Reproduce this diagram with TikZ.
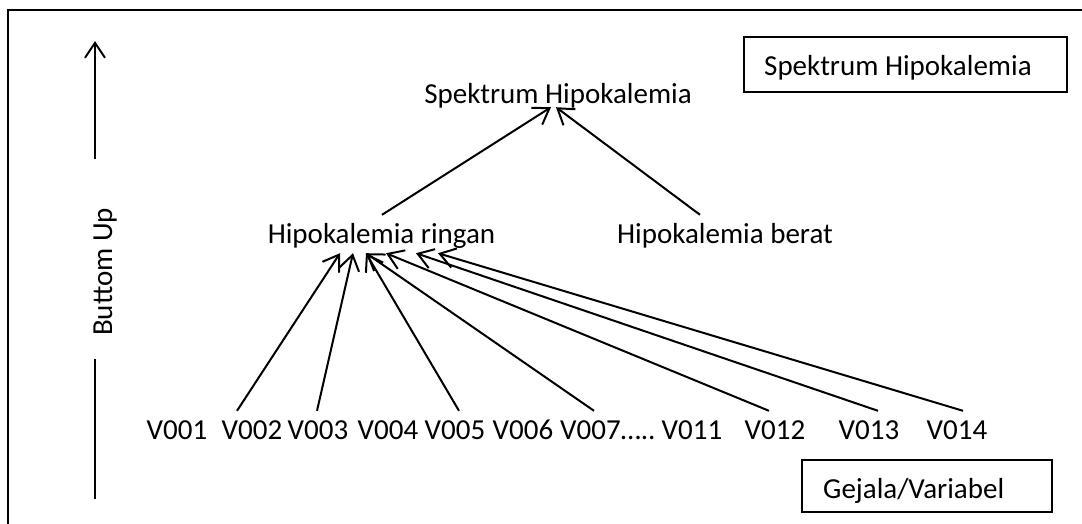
\documentclass[tikz,border=0pt]{standalone}
\usepackage{fontspec}
\setmainfont{Carlito}
\usetikzlibrary{arrows.meta}
\begin{document}
\begin{tikzpicture}[x=1pt,y=-1pt,
  lbl/.style={inner sep=0pt, text height=20pt, text depth=6pt, font=\fontsize{29}{35}\selectfont},
  link/.style={line width=2pt, -{Straight Barb[length=15pt,width=20pt,line width=2pt]}},
  legend/.style={draw, line width=1.4pt, inner sep=0pt}]
\useasboundingbox (0,0) rectangle (1082,523);
\clip (0,0) rectangle (1082,523);
% outer frame, running past the page on the right and at the bottom
\draw[line width=2.2pt] (8,10) rectangle (1100,540);

% hierarchy
\node[lbl, anchor=base] (top) at (558,103) {Spektrum Hipokalemia};
\node[lbl, anchor=base] (ringan) at (381.5,243) {Hipokalemia ringan};
\node[lbl, anchor=base] (berat) at (725,243) {Hipokalemia berat};

% symptoms / variables
\node[lbl, anchor=base] (v1) at (177,439) {V001};
\node[lbl, anchor=base] (v2) at (252,439) {V002};
\node[lbl, anchor=base] (v3) at (318,439) {V003};
\node[lbl, anchor=base] (v4) at (388,439) {V004};
\node[lbl, anchor=base] (v5) at (455,439) {V005};
\node[lbl, anchor=base] (v6) at (523,439) {V006};
\node[lbl, anchor=base west] (v7) at (560,439) {V007…..};
\node[lbl, anchor=base] (v11) at (692,439) {V011};
\node[lbl, anchor=base] (v12) at (775,439) {V012};
\node[lbl, anchor=base] (v13) at (869,439) {V013};
\node[lbl, anchor=base] (v14) at (957,439) {V014};

% symptoms up to the mild level
\draw[link] ([shift={(-15,-8)}]v2.north)  -- ([shift={(-41.5,4)}]ringan.south);
\draw[link] ([shift={(-1,-8)}]v3.north)   -- ([shift={(-28.5,4)}]ringan.south);
\draw[link] ([shift={(4,-8)}]v5.north)    -- ([shift={(-15.5,4)}]ringan.south);
\draw[link] ([shift={(34,-8)}]v7.north west) -- ([shift={(-15.5,4)}]ringan.south);
\draw[link] ([shift={(-6,-8)}]v12.north)  -- ([shift={(4.5,4)}]ringan.south);
\draw[link] ([shift={(9,-8)}]v13.north)   -- ([shift={(34.5,4)}]ringan.south);
\draw[link] ([shift={(6,-8)}]v14.north)   -- ([shift={(56.5,4)}]ringan.south);

% levels up to the spectrum
\draw[link] ([shift={(0.5,-8)}]ringan.north) -- ([shift={(-7,-2)}]top.south);
\draw[link] ([shift={(-25,-8)}]berat.north)  -- ([shift={(-2,-2)}]top.south);

% bottom-up axis
\coordinate (axlow) at (95,159);
\coordinate (axtip) at (95,41);
\draw[link] (axlow) -- (axtip);
\node[lbl, rotate=90, anchor=base] (axis) at (112,272) {Buttom Up};
\coordinate (axa) at (95,359);
\coordinate (axb) at (95,499);
\draw[line width=2pt] (axa) -- (axb);

% legends
\node[legend, minimum width=323pt, minimum height=55pt] (legtop) at (905.5,64.5) {};
\node[lbl, anchor=base west] (legtoptext) at (764,75) {Spektrum Hipokalemia};
\node[legend, minimum width=250pt, minimum height=52pt] (legbot) at (927,486) {};
\node[lbl, anchor=base west] (legbottext) at (823,498) {Gejala/Variabel};
\end{tikzpicture}
\end{document}
